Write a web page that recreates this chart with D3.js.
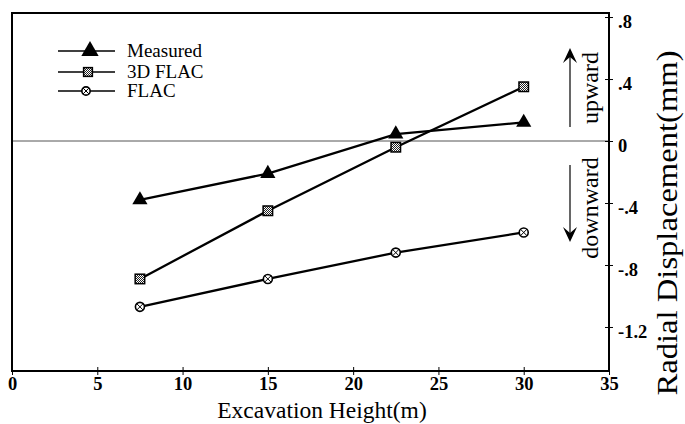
<!DOCTYPE html>
<html><head><meta charset="utf-8">
<script src="https://cdn.jsdelivr.net/npm/d3@7"></script>
<style>html,body{margin:0;padding:0;background:#fff;}svg, svg text{font-family:"Liberation Serif","Times New Roman",Times,serif !important;}
.tk{font-weight:700 !important;font-size:18.5px !important;}</style>
</head><body>
<svg id="c" width="685" height="424"></svg>
<script>
const heights = [7.5, 15, 22.5, 30];
const measured = [-0.38, -0.21, 0.045, 0.12];
const flac3d = [-0.89, -0.45, -0.04, 0.35];
const flac = [-1.07, -0.89, -0.72, -0.59];
const seriesNames = ["Measured", "3D FLAC", "FLAC"];
const xTicks = [0, 5, 10, 15, 20, 25, 30, 35];
const yTicks = [0.8, 0.4, 0, -0.4, -0.8, -1.2];
const yTickLabels = [".8", ".4", "0", "-.4", "-.8", "-1.2"];

const svg = d3.select("#c");
const L = 12, R = 609, T = 13, B = 371;
const x = d3.scaleLinear().domain([0, 35]).range([L, R]);
const y = d3.scaleLinear().domain([-1.484, 0.826]).range([B, T]);

const defs = svg.append("defs");
const pat = defs.append("pattern").attr("id","chk").attr("width",2).attr("height",2).attr("patternUnits","userSpaceOnUse");
pat.append("rect").attr("width",2).attr("height",2).attr("fill","#fff");
pat.append("rect").attr("width",1).attr("height",1).attr("fill","#222");
pat.append("rect").attr("x",1).attr("y",1).attr("width",1).attr("height",1).attr("fill","#222");

// zero line
svg.append("line").attr("x1",L).attr("x2",R).attr("y1",y(0)).attr("y2",y(0))
  .attr("stroke","#555").attr("stroke-width",1);

// frame
svg.append("rect").attr("x",L).attr("y",T).attr("width",R-L).attr("height",B-T)
  .attr("fill","none").attr("stroke","#000").attr("stroke-width",2);

// bottom axis
const xAxis = d3.axisBottom(x).tickValues(xTicks).tickSizeInner(4).tickSizeOuter(0).tickPadding(2);
const gx = svg.append("g").attr("transform",`translate(0,${B})`).call(xAxis);
gx.attr("font-family", null).attr("font-size", null);
gx.select(".domain").remove();
gx.selectAll(".tick line").attr("y1",-4).attr("stroke","#000");
gx.selectAll(".tick text").attr("class","tk").attr("fill","#000");

// right axis
const yAxis = d3.axisRight(y).tickValues(yTicks).tickFormat((d,i)=>yTickLabels[i]).tickSizeInner(4).tickSizeOuter(0).tickPadding(5);
const gy = svg.append("g").attr("transform",`translate(${R},0)`).call(yAxis);
gy.attr("font-family", null).attr("font-size", null);
gy.select(".domain").remove();
gy.selectAll(".tick line").attr("x1",-4).attr("stroke","#000");
gy.selectAll(".tick text").attr("class","tk").attr("fill","#000").attr("dy","0.55em");

// axis titles
svg.append("text").attr("x",322).attr("y",418).attr("text-anchor","middle")
  .style("font-size","23.5px").attr("fill","#000").text("Excavation Height(m)");
svg.append("text").attr("transform",`translate(677,223) rotate(-90)`).attr("text-anchor","middle")
  .style("font-size","29px").attr("textLength",345).attr("lengthAdjust","spacingAndGlyphs")
  .attr("fill","#000").text("Radial Displacement(mm)");

// upward / downward
svg.append("text").attr("transform",`translate(598,88) rotate(-90)`).attr("text-anchor","middle")
  .style("font-size","24px").attr("fill","#000").text("upward");
svg.append("text").attr("transform",`translate(598,208) rotate(-90)`).attr("text-anchor","middle")
  .style("font-size","24px").attr("fill","#000").text("downward");
const ax = 570;
svg.append("line").attr("x1",ax).attr("x2",ax).attr("y1",127).attr("y2",54).attr("stroke","#000").attr("stroke-width",1.2);
svg.append("path").attr("d",`M${ax-7},${63} L${ax},${48} L${ax+7},${63} L${ax},${57} Z`).attr("fill","#000");
svg.append("line").attr("x1",ax).attr("x2",ax).attr("y1",165).attr("y2",236).attr("stroke","#000").attr("stroke-width",1.2);
svg.append("path").attr("d",`M${ax-7},${227} L${ax},${242} L${ax+7},${227} L${ax},${233} Z`).attr("fill","#000");

// markers
function marker(g, type, cx, cy, scale) {
  scale = scale || 1;
  if (type === 0) {
    g.append("path").attr("d", d3.symbol().type(d3.symbolTriangle).size(100*scale)())
      .attr("transform",`translate(${cx},${cy})`).attr("fill","#000");
  } else if (type === 1) {
    const s = 9.5*Math.sqrt(scale);
    g.append("rect").attr("x",cx-s/2).attr("y",cy-s/2).attr("width",s).attr("height",s)
      .attr("fill","url(#chk)").attr("stroke","#000").attr("stroke-width",1.5);
  } else {
    const r = 4.5*Math.sqrt(scale);
    g.append("circle").attr("cx",cx).attr("cy",cy).attr("r",r).attr("fill","#fff").attr("stroke","#000").attr("stroke-width",1.6);
    const k = r*0.7;
    g.append("path").attr("d",`M${cx-k},${cy-k}L${cx+k},${cy+k}M${cx-k},${cy+k}L${cx+k},${cy-k}`)
      .attr("stroke","#000").attr("stroke-width",1);
  }
}

const allSeries = [measured, flac3d, flac];
const line = d3.line().x(d=>x(d[0])).y(d=>y(d[1]));
allSeries.forEach((vals, si) => {
  const pts = heights.map((h,i)=>[h, vals[i]]);
  svg.append("path").attr("d", line(pts)).attr("fill","none").attr("stroke","#000").attr("stroke-width",2.3);
  const g = svg.append("g");
  pts.forEach(p => marker(g, si, x(p[0]), y(p[1])));
});

// legend
const legRows = [51, 72, 91];
seriesNames.forEach((name, i) => {
  const yy = legRows[i];
  svg.append("line").attr("x1",58).attr("x2",115).attr("y1",yy).attr("y2",yy).attr("stroke","#000").attr("stroke-width",1.5);
  const g = svg.append("g");
  marker(g, i, i===0?90:i===1?88:86, yy, i===0?1.3:0.85);
  svg.append("text").attr("x",127).attr("y",yy).attr("dy","0.33em").style("font-size","19px").attr("fill","#000").text(name);
});
</script>
</body></html>
